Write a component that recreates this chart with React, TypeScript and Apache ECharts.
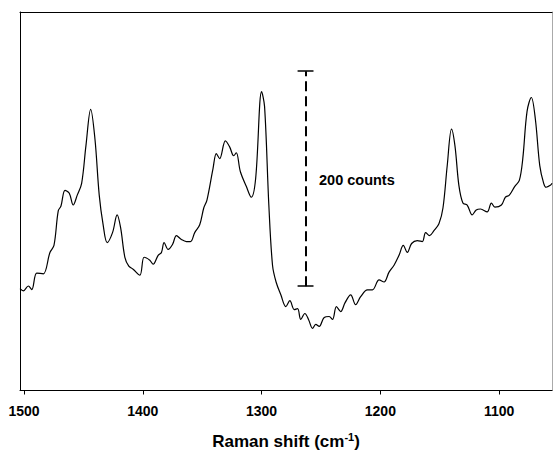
import React, { useEffect, useRef } from "react";
import * as echarts from "echarts";

const wavenumbers = [
  1503.4, 1500.6, 1496.4, 1493.5, 1489.3, 1483.8, 1478.2, 1474.8, 1471.2, 1468.9,
  1465.5, 1461.9, 1458.6, 1455.2, 1451.5, 1447.9, 1443.9, 1440.3, 1436.7, 1433.4,
  1430.0, 1425.5, 1421.6, 1418.7, 1415.1, 1411.8, 1408.2, 1402.5, 1398.9, 1394.1,
  1391.3, 1387.1, 1384.3, 1382.1, 1378.7, 1375.0, 1371.7, 1367.5, 1363.3, 1359.9,
  1356.3, 1352.1, 1348.7, 1346.0, 1340.9, 1338.1, 1335.3, 1330.5, 1326.9, 1323.5,
  1321.3, 1317.9, 1312.9, 1308.7, 1305.0, 1300.0, 1297.5, 1293.9, 1290.8, 1287.8,
  1283.8, 1279.6, 1276.2, 1272.5, 1269.7, 1267.0, 1263.6, 1260.5, 1257.1, 1254.4,
  1251.5, 1247.3, 1243.1, 1240.3, 1237.0, 1233.4, 1229.7, 1225.0, 1220.8, 1216.6,
  1210.9, 1206.7, 1201.1, 1196.9, 1192.7, 1188.5, 1184.3, 1180.7, 1177.3, 1173.7,
  1168.9, 1164.7, 1161.9, 1158.6, 1154.9, 1150.7, 1147.3, 1143.7, 1140.1, 1137.2,
  1133.9, 1130.5, 1126.9, 1122.7, 1119.3, 1115.7, 1110.1, 1106.5, 1103.6, 1098.1,
  1094.7, 1091.4, 1086.8, 1083.0, 1080.1, 1076.5, 1072.9, 1069.5, 1065.8, 1062.5,
  1060.5, 1056.9, 1055.5,
];

const counts = [
  94.8, 92.7, 97.2, 93.9, 109.2, 108.5, 128.4, 134.9, 167.0, 171.6,
  186.2, 183.5, 172.5, 181.7, 192.7, 227.5, 261.5, 233.9, 181.7, 154.1,
  137.6, 146.8, 163.3, 151.4, 123.9, 115.6, 112.8, 107.3, 123.9, 121.1,
  117.4, 125.7, 128.4, 137.6, 131.2, 135.8, 144.0, 140.4, 138.5, 138.5,
  146.8, 154.1, 169.7, 177.1, 206.4, 220.2, 215.6, 232.1, 226.6, 218.3,
  221.1, 203.7, 189.9, 179.8, 197.2, 278.0, 264.2, 172.5, 116.5, 100.9,
  89.0, 78.0, 83.5, 75.2, 76.1, 66.1, 71.6, 66.1, 57.8, 61.5,
  59.6, 67.9, 68.8, 66.1, 78.0, 73.4, 81.7, 89.0, 79.8, 87.2,
  93.6, 93.6, 102.8, 100.9, 110.1, 116.5, 125.7, 134.9, 128.4, 136.7,
  139.4, 138.5, 146.8, 144.0, 148.6, 155.0, 169.7, 209.2, 243.1, 227.5,
  190.8, 174.3, 172.5, 163.3, 167.9, 168.8, 166.1, 174.3, 170.6, 172.5,
  179.8, 181.7, 189.9, 195.4, 215.6, 259.6, 272.5, 252.3, 209.2, 192.7,
  189.0, 190.8, 192.7,
];

const tickValues = [1500, 1400, 1300, 1200, 1100];

// scale bar: 200 counts
const barX = 1263;
const barLow = 97;
const barHigh = 297;
const barLabel = "200 counts";

const FONT = 'Arial, "Liberation Sans", sans-serif';

export default function App() {
  const ref = useRef<HTMLDivElement>(null);
  useEffect(() => {
    if (!ref.current) return;
    const chart = echarts.init(ref.current, null, { renderer: "svg" });
    const data = wavenumbers.map((w, i) => [w, counts[i]]);
    const capHalf = 6.7;
    const xMin = 1055.5;
    const xMax = 1503.4;
    chart.setOption({
      animation: false,
      backgroundColor: "#fff",
      grid: {
        left: 20,
        top: 12,
        right: 1,
        bottom: 59,
        show: false,
      },
      xAxis: [
        {
          type: "value",
          inverse: true,
          min: xMin,
          max: xMax,
          position: "bottom",
          name: "Raman shift (cm{sup|-1})",
          nameLocation: "middle",
          nameGap: 41,
          nameTextStyle: {
            fontFamily: FONT,
            fontWeight: "bold",
            fontSize: 17,
            color: "#000",
            rich: {
              sup: {
                fontFamily: FONT,
                fontWeight: "bold",
                fontSize: 11,
                color: "#000",
                verticalAlign: "top",
                padding: [0, 0, 9, 0],
              },
            },
          },
          axisLine: { show: true, onZero: false, lineStyle: { color: "#000", width: 1 } },
          axisTick: {
            show: true,
            inside: false,
            length: 4,
            customValues: tickValues,
            lineStyle: { color: "#000" },
          },
          axisLabel: {
            show: true,
            customValues: tickValues,
            formatter: (v: number) => String(Math.round(v)),
            margin: 13,
            fontFamily: FONT,
            fontWeight: "bold",
            fontSize: 14,
            color: "#000",
          },
          splitLine: { show: false },
        },
        {
          type: "value",
          inverse: true,
          min: xMin,
          max: xMax,
          position: "top",
          axisLine: { show: true, onZero: false, lineStyle: { color: "#000", width: 1 } },
          axisTick: { show: false },
          axisLabel: { show: false },
          splitLine: { show: false },
        },
      ],
      yAxis: [
        {
          type: "value",
          min: 0,
          max: 352,
          position: "left",
          axisLine: { show: true, onZero: false, lineStyle: { color: "#000" } },
          axisTick: { show: false },
          axisLabel: { show: false },
          splitLine: { show: false },
        },
        {
          type: "value",
          min: 0,
          max: 352,
          position: "right",
          axisLine: { show: true, onZero: false, lineStyle: { color: "#aaa" } },
          axisTick: { show: false },
          axisLabel: { show: false },
          splitLine: { show: false },
        },
      ],
      series: [
        {
          type: "line",
          data,
          smooth: 0.35,
          showSymbol: false,
          lineStyle: { color: "#000", width: 1.2 },
          markLine: {
            silent: true,
            symbol: "none",
            label: { show: false },
            data: [
              [
                { coord: [barX, barLow], lineStyle: { type: [10, 5], width: 2, color: "#000" } },
                { coord: [barX, barHigh] },
              ],
              [
                { coord: [barX - capHalf, barHigh], lineStyle: { type: "solid", width: 1.5, color: "#000" } },
                { coord: [barX + capHalf, barHigh] },
              ],
              [
                { coord: [barX - capHalf, barLow], lineStyle: { type: "solid", width: 1.5, color: "#000" } },
                { coord: [barX + capHalf, barLow] },
              ],
            ],
          },
        },
      ],
      graphic: [
        {
          type: "text",
          left: 319,
          top: 172,
          style: {
            text: barLabel,
            fontFamily: FONT,
            fontWeight: "bold",
            fontSize: 14.5,
            fill: "#000",
          },
        },
      ],
    });
    return () => chart.dispose();
  }, []);
  return (
    <div
      ref={ref}
      style={{ position: "absolute", left: 0, top: 0, width: 553, height: 455 }}
    />
  );
}
